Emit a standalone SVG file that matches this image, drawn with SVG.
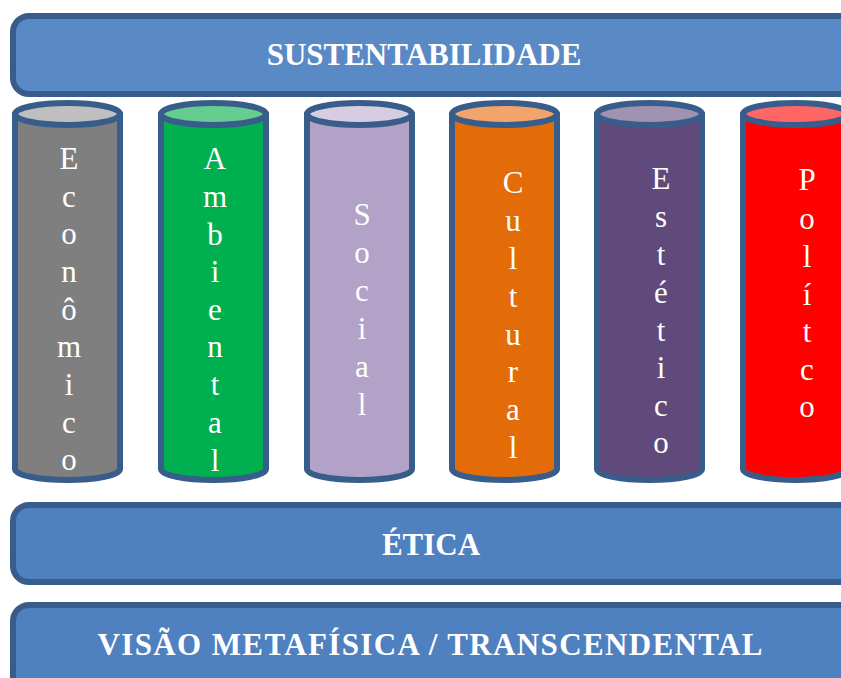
<svg xmlns="http://www.w3.org/2000/svg" width="841" height="678" viewBox="0 0 841 678">
<style>
.bar{stroke:#385d8a;stroke-width:6}
.cyl{stroke:#385d8a;stroke-width:6;stroke-linejoin:round}
.bt{font-family:"Liberation Serif","Times New Roman",serif;font-weight:bold;font-size:31px;fill:#ffffff;text-anchor:middle}
.vt{font-family:"Liberation Serif","Times New Roman",serif;font-size:31px;fill:#ffffff;text-anchor:middle}
</style>
<rect x="0" y="0" width="841" height="678" fill="#ffffff"/>
<g id="sustentabilidade">
<rect class="bar" x="13" y="16" width="860" height="78" rx="16" fill="#5a8ac6"/>
<text class="bt" x="424" y="65">SUSTENTABILIDADE</text>
</g>
<g id="economico">
<path class="cyl" d="M15,114 L15,469 A52.5,11 0 0 0 120,469 L120,114 Z" fill="#7f7f7f"/>
<ellipse class="cyl" cx="67.5" cy="114" rx="52.5" ry="11" fill="#bfbfbf"/>
<text class="vt"><tspan x="69" y="169">E</tspan><tspan x="69" y="207">c</tspan><tspan x="69" y="244">o</tspan><tspan x="69" y="282">n</tspan><tspan x="69" y="320">ô</tspan><tspan x="69" y="357">m</tspan><tspan x="69" y="395">i</tspan><tspan x="69" y="433">c</tspan><tspan x="69" y="470">o</tspan></text>
</g>
<g id="ambiental">
<path class="cyl" d="M161,114 L161,469 A52.5,11 0 0 0 266,469 L266,114 Z" fill="#00b050"/>
<ellipse class="cyl" cx="213.5" cy="114" rx="52.5" ry="11" fill="#66cc90"/>
<text class="vt"><tspan x="215" y="169">A</tspan><tspan x="215" y="207">m</tspan><tspan x="215" y="245">b</tspan><tspan x="215" y="282">i</tspan><tspan x="215" y="320">e</tspan><tspan x="215" y="357">n</tspan><tspan x="215" y="395">t</tspan><tspan x="215" y="433">a</tspan><tspan x="215" y="471">l</tspan></text>
</g>
<g id="social">
<path class="cyl" d="M307,114 L307,469 A52.5,11 0 0 0 412,469 L412,114 Z" fill="#b3a2c7"/>
<ellipse class="cyl" cx="359.5" cy="114" rx="52.5" ry="11" fill="#d6cde3"/>
<text class="vt"><tspan x="362" y="225">S</tspan><tspan x="362" y="263">o</tspan><tspan x="362" y="301">c</tspan><tspan x="362" y="339">i</tspan><tspan x="362" y="377">a</tspan><tspan x="362" y="415">l</tspan></text>
</g>
<g id="cultural">
<path class="cyl" d="M452,114 L452,469 A52.5,11 0 0 0 557,469 L557,114 Z" fill="#e36c09"/>
<ellipse class="cyl" cx="504.5" cy="114" rx="52.5" ry="11" fill="#f1a46c"/>
<text class="vt"><tspan x="513" y="193">C</tspan><tspan x="513" y="231">u</tspan><tspan x="513" y="269">l</tspan><tspan x="513" y="307">t</tspan><tspan x="513" y="345">u</tspan><tspan x="513" y="382">r</tspan><tspan x="513" y="420">a</tspan><tspan x="513" y="458">l</tspan></text>
</g>
<g id="estetico">
<path class="cyl" d="M597,114 L597,469 A52.5,11 0 0 0 702,469 L702,114 Z" fill="#604a7b"/>
<ellipse class="cyl" cx="649.5" cy="114" rx="52.5" ry="11" fill="#a093b2"/>
<text class="vt"><tspan x="661" y="189">E</tspan><tspan x="661" y="227">s</tspan><tspan x="661" y="265">t</tspan><tspan x="661" y="303">é</tspan><tspan x="661" y="341">t</tspan><tspan x="661" y="378">i</tspan><tspan x="661" y="416">c</tspan><tspan x="661" y="453">o</tspan></text>
</g>
<g id="politico">
<path class="cyl" d="M743,114 L743,469 A52.5,11 0 0 0 848,469 L848,114 Z" fill="#ff0000"/>
<ellipse class="cyl" cx="795.5" cy="114" rx="52.5" ry="11" fill="#ff6666"/>
<text class="vt"><tspan x="807" y="190">P</tspan><tspan x="807" y="229">o</tspan><tspan x="807" y="267">l</tspan><tspan x="807" y="305">í</tspan><tspan x="807" y="342">t</tspan><tspan x="807" y="380">c</tspan><tspan x="807" y="417">o</tspan></text>
</g>
<g id="etica">
<rect class="bar" x="13" y="505" width="860" height="77" rx="16" fill="#4f80bf"/>
<text class="bt" x="431" y="555">ÉTICA</text>
</g>
<g id="visao">
<rect class="bar" x="13" y="605" width="860" height="90" rx="16" fill="#4f80bf"/>
<text class="bt" x="430" y="655" textLength="665" lengthAdjust="spacing">VISÃO METAFÍSICA / TRANSCENDENTAL</text>
</g>
<g id="connectors"></g>
</svg>
